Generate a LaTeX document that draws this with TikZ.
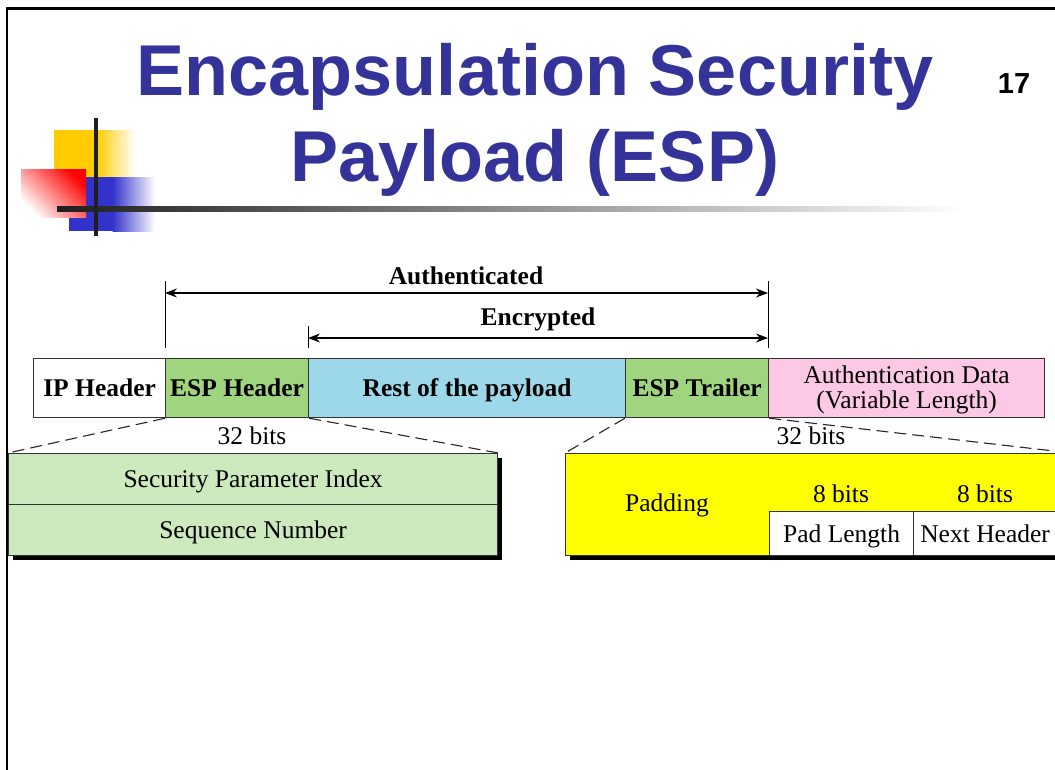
\documentclass[tikz,border=0pt]{standalone}
\usepackage{fontspec}
\setmainfont{Liberation Serif}
\newfontfamily\headfont{Liberation Sans}
\usetikzlibrary{arrows.meta}

\definecolor{titleblue}{HTML}{333399}
\definecolor{espgreen}{HTML}{A0D580}
\definecolor{payblue}{HTML}{9DD8EA}
\definecolor{authpink}{HTML}{FDC8E5}
\definecolor{palegreen}{HTML}{CCEABD}
\definecolor{padyellow}{HTML}{FFFF00}
\definecolor{edge}{HTML}{333333}
\definecolor{decoyellow}{HTML}{FFCC00}
\definecolor{decoblue}{HTML}{3333CC}

\newcommand\plainsize{\fontsize{25.5}{28}\selectfont}

\tikzset{
  field/.style={draw=edge, line width=1.2pt, inner sep=0pt, anchor=north west,
    align=center, font=\plainsize},
  oneline/.style={text height=17pt, text depth=0pt},
  boldfield/.style={field, oneline, font=\plainsize\bfseries},
  plaintext/.style={inner sep=0pt, font=\plainsize},
  boldtext/.style={inner sep=0pt, font=\plainsize\bfseries},
  zoomline/.style={dash pattern=on 12pt off 6pt, line width=1.1pt, draw=black!85},
  span/.style={line width=1.2pt, {Stealth[length=12pt,width=9pt]}-{Stealth[length=12pt,width=9pt]}},
  tick/.style={line width=1pt},
  titletext/.style={inner sep=0pt, anchor=base, text=titleblue,
    font=\headfont\fontsize{72}{80}\selectfont\bfseries},
}

\begin{document}
\begin{tikzpicture}[x=1pt, y=-1pt]
\clip (0,0) rectangle (1055,769);
\fill[white] (0,0) rectangle (1055,769);

% slide frame
\draw[line width=2.6pt, black] (7,775) -- (7,8.5) -- (1065,8.5);

% corner ornament
\fill[decoyellow] (54,130) rectangle (97,177);
\shade[left color=decoyellow, right color=white] (96.5,130) rectangle (135,177);
\fill[decoblue] (69,177) rectangle (113,231);
\shade[left color=decoblue, right color=white] (112.5,177) rectangle (155,231);
\shade[top color=red, bottom color=white, shading angle=-45] (21,169) rectangle (86,217);
\shade[left color=black!88, right color=white] (57,206) rectangle (965,211);
\fill[black!88] (94,118) rectangle (98,236);

% title and slide number
\node[titletext] (t1) at (535,95) {Encapsulation Security};
\node[titletext] (t2) at (535,181) {Payload (ESP)};
\node[inner sep=0pt, anchor=base, font=\headfont\fontsize{29}{32}\selectfont\bfseries]
  (num) at (1014,93) {17};

% packet fields
\node[boldfield, fill=white, minimum width=132pt, minimum height=59pt] (ip) at (33,358) {IP Header};
\node[boldfield, fill=espgreen, minimum width=143pt, minimum height=59pt] (esph) at (165,358) {ESP Header};
\node[boldfield, fill=payblue, minimum width=317pt, minimum height=59pt] (rest) at (308,358) {Rest of the payload};
\node[boldfield, fill=espgreen, minimum width=143pt, minimum height=59pt] (espt) at (625,358) {ESP Trailer};
\node[field, fill=authpink, minimum width=276pt, minimum height=59pt] (auth) at (768,358)
  {\rule{0pt}{21pt}Authentication Data\\[-3pt](Variable Length)};

% coverage spans
\coordinate (aTopL) at (165,281);
\coordinate (aBotL) at (165,348);
\coordinate (aTopR) at (768,281);
\coordinate (aBotR) at (768,348);
\coordinate (eTopL) at (308,326);
\coordinate (eBotL) at (308,348);
\coordinate (aL) at (165,293);
\coordinate (aR) at (768,293);
\coordinate (eL) at (308,338);
\coordinate (eR) at (768,338);
\draw[tick] (aTopL) -- (aBotL);
\draw[tick] (aTopR) -- (aBotR);
\draw[tick] (eTopL) -- (eBotL);
\draw[span] (aL) -- (aR);
\draw[span] (eL) -- (eR);
\node[boldtext] (authlbl) at (466,276) {Authenticated};
\node[boldtext] (enclbl) at (538,319) {Encrypted};

% ESP header detail
\fill[black] (13,458) rectangle (502,560);
\node[field, oneline, fill=palegreen, minimum width=489pt, minimum height=51pt] (spi) at (8,453) {Security Parameter Index};
\node[field, oneline, fill=palegreen, minimum width=489pt, minimum height=51pt] (seq) at (8,504) {Sequence Number};
\node[plaintext] (bitsL) at (252,436) {32 bits};

% ESP trailer detail
\fill[black] (570,458) rectangle (1075,560);
\node[field, fill=padyellow, minimum width=505pt, minimum height=102pt] (pad) at (565,453) {};
\node[field, oneline, fill=white, minimum width=144pt, minimum height=44pt] (padlen) at (769,511) {Pad Length};
\node[field, oneline, fill=white, minimum width=157pt, minimum height=44pt] (nexthdr) at (913,511) {\hspace*{-14pt}Next Header};
\node[plaintext] (padding) at (667,505) {Padding};
\node[plaintext] (bits8a) at (841,494) {8 bits};
\node[plaintext] (bits8b) at (985,494) {8 bits};
\node[plaintext] (bitsR) at (811,436) {32 bits};

% zoom guides
\draw[zoomline] (esph.south west) -- (spi.north west);
\draw[zoomline] (esph.south east) -- (spi.north east);
\draw[zoomline] (espt.south west) -- (pad.north west);
\draw[zoomline] (espt.south east) -- (pad.north east);
\end{tikzpicture}
\end{document}
